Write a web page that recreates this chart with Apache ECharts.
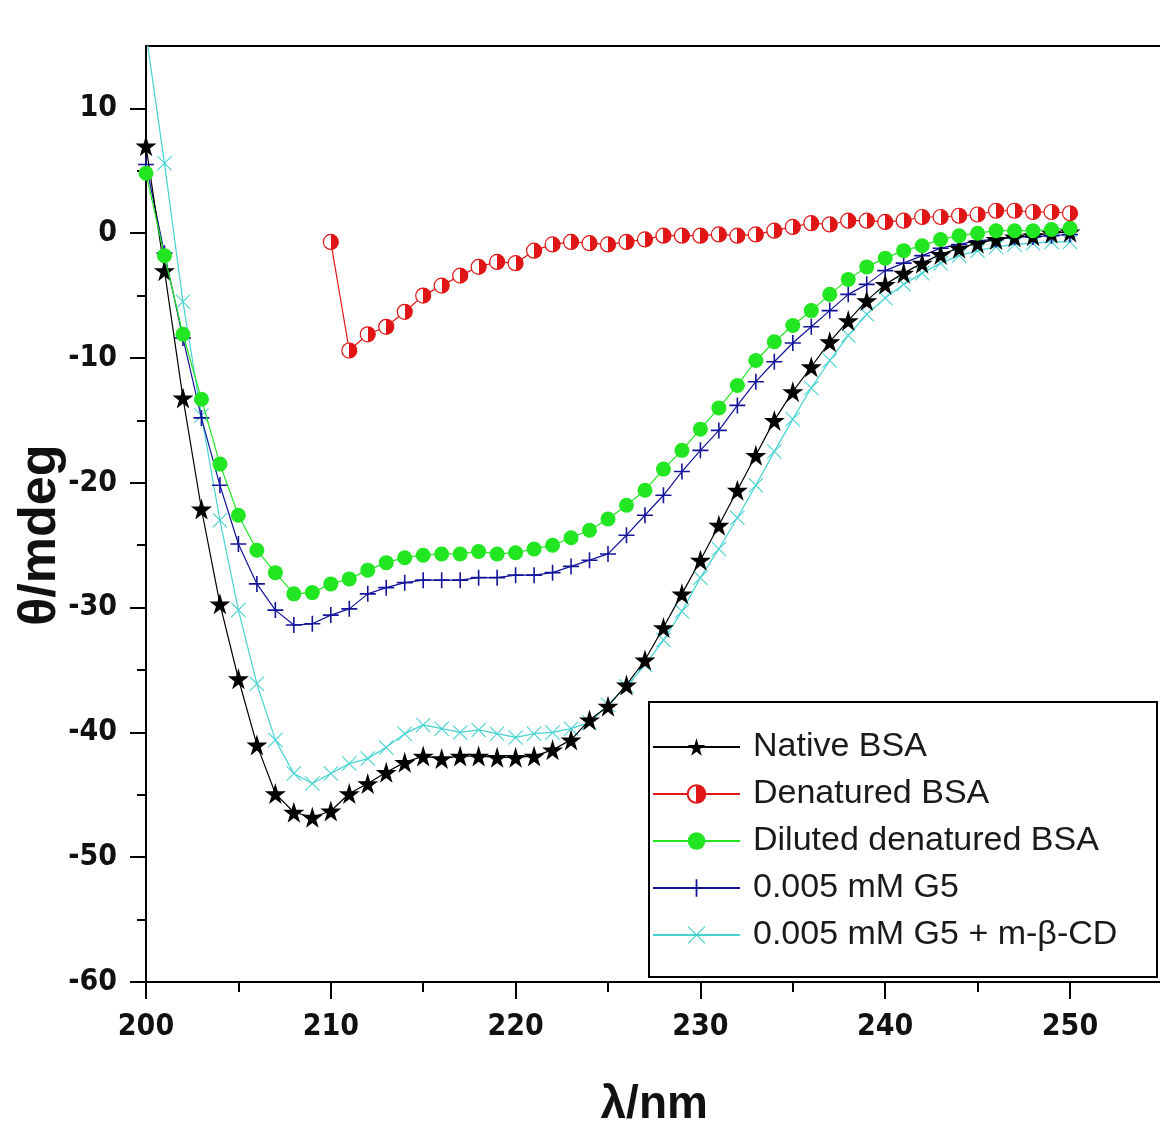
<!DOCTYPE html>
<html>
<head>
<meta charset="utf-8">
<script src="https://cdn.jsdelivr.net/npm/echarts@6/dist/echarts.min.js"></script>
<style>
  html, body { margin: 0; padding: 0; background: #ffffff; }
  #chart { width: 1160px; height: 1126px; }
</style>
</head>
<body>
<div id="chart"></div>
<script>
// CD spectra of BSA samples, ellipticity (mdeg) against wavelength (nm)
const wavelengths = [
  200, 201, 202, 203, 204, 205, 206, 207, 208, 209,
  210, 211, 212, 213, 214, 215, 216, 217, 218, 219,
  220, 221, 222, 223, 224, 225, 226, 227, 228, 229,
  230, 231, 232, 233, 234, 235, 236, 237, 238, 239,
  240, 241, 242, 243, 244, 245, 246, 247, 248, 249, 250
];

const nativeBSA = [
  7.0, -3.0, -13.2, -22.1, -29.7, -35.7, -41.0, -44.9, -46.4, -46.8,
  -46.3, -44.9, -44.1, -43.2, -42.4, -41.9, -42.1, -41.9, -41.9, -42.0,
  -42.0, -41.9, -41.4, -40.6, -39.0, -37.9, -36.2, -34.2, -31.6, -28.9,
  -26.2, -23.4, -20.6, -17.8, -15.0, -12.7, -10.7, -8.7, -7.0, -5.4,
  -4.1, -3.2, -2.4, -1.7, -1.2, -0.8, -0.5, -0.3, -0.2, 0.0, 0.1
];

const denaturedBSA = [
  null, null, null, null, null, null, null, null, null, null,
  -0.7, -9.4, -8.1, -7.5, -6.3, -5.0, -4.2, -3.4, -2.7, -2.3,
  -2.4, -1.4, -0.9, -0.7, -0.8, -0.9, -0.7, -0.5, -0.2, -0.2,
  -0.2, -0.1, -0.2, -0.1, 0.2, 0.5, 0.8, 0.7, 1.0, 1.0,
  0.9, 1.0, 1.3, 1.3, 1.4, 1.5, 1.8, 1.8, 1.7, 1.7, 1.6
];

const dilutedDenaturedBSA = [
  4.8, -1.8, -8.1, -13.3, -18.5, -22.6, -25.4, -27.2, -28.9, -28.8,
  -28.1, -27.7, -27.0, -26.4, -26.0, -25.8, -25.7, -25.7, -25.5, -25.7,
  -25.6, -25.3, -25.0, -24.4, -23.8, -22.9, -21.8, -20.6, -18.9, -17.4,
  -15.7, -14.0, -12.2, -10.2, -8.7, -7.4, -6.2, -4.9, -3.7, -2.7,
  -2.0, -1.4, -1.0, -0.5, -0.2, 0.0, 0.2, 0.2, 0.2, 0.3, 0.4
];

const g5 = [
  5.5, -1.6, -8.4, -14.8, -20.2, -24.9, -28.1, -30.2, -31.4, -31.3,
  -30.6, -30.1, -28.9, -28.4, -28.0, -27.8, -27.8, -27.8, -27.6, -27.6,
  -27.4, -27.4, -27.2, -26.7, -26.2, -25.7, -24.2, -22.6, -21.0, -19.1,
  -17.4, -15.8, -13.8, -11.9, -10.3, -8.8, -7.5, -6.2, -4.9, -4.1,
  -3.0, -2.4, -1.8, -1.2, -0.9, -0.6, -0.5, -0.3, -0.3, -0.2, -0.1
];

const g5CD = [
  16.0, 5.6, -5.5, -14.6, -23.0, -30.2, -36.1, -40.6, -43.3, -44.1,
  -43.3, -42.5, -42.1, -41.2, -40.1, -39.4, -39.7, -40.0, -39.8, -40.1,
  -40.4, -40.1, -40.0, -39.7, -39.2, -37.8, -36.3, -34.6, -32.6, -30.3,
  -27.6, -25.3, -22.8, -20.2, -17.5, -14.9, -12.4, -10.2, -8.2, -6.5,
  -5.2, -4.1, -3.2, -2.4, -1.8, -1.4, -1.1, -0.9, -0.8, -0.7, -0.7
];

const seriesNames = [
  'Native BSA',
  'Denatured BSA',
  'Diluted denatured BSA',
  '0.005 mM G5',
  '0.005 mM G5 + m-\u03b2-CD'
];

// axis ranges: the frame runs a little past the last labelled tick
const X_MIN = 200, X_TICK_MAX = 250, X_FRAME_MAX = 255;
const Y_MIN = -60, Y_TICK_MAX = 10, Y_FRAME_MAX = 15;

// layout
const PLOT_LEFT = 146, PLOT_TOP = 46;
const PX_PER_X = 18.48, PX_PER_Y = 12.48;

const tickFont = "'Liberation Sans Narrow', 'DejaVu Sans Condensed', 'Liberation Sans', sans-serif";
const textFont = "'Liberation Sans', Arial, sans-serif";

const STAR = 'path://M50,0 L61,35 L98,35 L68,57 L79,91 L50,70 L21,91 L32,57 L2,35 L39,35 Z';
const PLUS = 'path://M0,9 H20 V11 H0 Z M9,0 H11 V20 H9 Z';
const CROSS = 'path://M0,1 L1,0 L20,19 L19,20 Z M19,0 L20,1 L1,20 L0,19 Z';

const halfRed = new echarts.graphic.LinearGradient(0, 0, 1, 0, [
  { offset: 0, color: '#ffffff' },
  { offset: 0.5, color: '#ffffff' },
  { offset: 0.5, color: '#e01515' },
  { offset: 1, color: '#e01515' }
]);

function pairs(values) {
  return wavelengths
    .map((w, i) => [w, values[i]])
    .filter(p => p[1] !== null);
}

function lineSeries(name, values, color, symbol, size, z, itemStyle) {
  return {
    name: name,
    type: 'line',
    xAxisIndex: 0,
    yAxisIndex: 0,
    data: pairs(values),
    symbol: symbol,
    symbolSize: size,
    showAllSymbol: true,
    clip: true,
    z: z,
    lineStyle: { color: color, width: 1.2 },
    itemStyle: Object.assign({ color: color }, itemStyle || {}),
    emphasis: { disabled: true }
  };
}

const frameLine = { show: true, onZero: false, lineStyle: { color: '#000', width: 2 } };
const tickLabel = { show: true, fontSize: 30, fontWeight: 'bold', fontFamily: tickFont, color: '#111' };

const chart = echarts.init(document.getElementById('chart'), null, { renderer: 'canvas' });

chart.setOption({
  animation: false,
  backgroundColor: '#ffffff',
  grid: [
    {
      // frame grid, carries the data
      left: PLOT_LEFT, top: PLOT_TOP,
      width: (X_FRAME_MAX - X_MIN) * PX_PER_X,
      height: (Y_FRAME_MAX - Y_MIN) * PX_PER_Y,
      containLabel: false,
      outerBoundsMode: 'none'
    },
    {
      // tick grid, spans only the labelled range
      left: PLOT_LEFT,
      top: PLOT_TOP + (Y_FRAME_MAX - Y_TICK_MAX) * PX_PER_Y,
      width: (X_TICK_MAX - X_MIN) * PX_PER_X,
      height: (Y_TICK_MAX - Y_MIN) * PX_PER_Y,
      containLabel: false,
      outerBoundsMode: 'none'
    }
  ],
  xAxis: [
    {
      gridIndex: 0, type: 'value', min: X_MIN, max: X_FRAME_MAX, position: 'bottom',
      axisLine: frameLine,
      axisTick: { show: false }, axisLabel: { show: false }, splitLine: { show: false },
      name: '\u03bb/nm', nameLocation: 'middle', nameGap: 100, nameMoveOverlap: false,
      nameTextStyle: { fontSize: 46, fontWeight: 'bold', fontFamily: textFont, color: '#111' }
    },
    {
      gridIndex: 0, type: 'value', min: X_MIN, max: X_FRAME_MAX, position: 'top',
      axisLine: frameLine,
      axisTick: { show: false }, axisLabel: { show: false }, splitLine: { show: false }
    },
    {
      gridIndex: 1, type: 'value', min: X_MIN, max: X_TICK_MAX, interval: 10, position: 'bottom',
      axisLine: { show: false, onZero: false },
      axisTick: { show: true, length: 17, lineStyle: { color: '#000', width: 2 } },
      minorTick: { show: true, splitNumber: 2, length: 10, lineStyle: { color: '#000', width: 2 } },
      axisLabel: Object.assign({ margin: 30 }, tickLabel),
      splitLine: { show: false }
    }
  ],
  yAxis: [
    {
      gridIndex: 0, type: 'value', min: Y_MIN, max: Y_FRAME_MAX, position: 'left',
      axisLine: frameLine,
      axisTick: { show: false }, axisLabel: { show: false }, splitLine: { show: false }
    },
    {
      gridIndex: 1, type: 'value', min: Y_MIN, max: Y_TICK_MAX, interval: 10, position: 'left',
      axisLine: { show: false, onZero: false },
      axisTick: { show: true, length: 16, lineStyle: { color: '#000', width: 2 } },
      minorTick: { show: true, splitNumber: 2, length: 9, lineStyle: { color: '#000', width: 2 } },
      axisLabel: Object.assign({ margin: 29 }, tickLabel),
      splitLine: { show: false },
      name: '\u03b8/mdeg', nameLocation: 'middle', nameGap: 79, nameRotate: 90, nameMoveOverlap: false,
      nameTextStyle: { fontSize: 52, fontWeight: 'bold', fontFamily: textFont, color: '#111', padding: [0, 0, 0, 20] }
    }
  ],
  legend: {
    data: seriesNames,
    orient: 'vertical',
    left: 652, top: 730,
    itemWidth: 87, itemHeight: 22, itemGap: 13,
    padding: 0,
    selectedMode: false,
    z: 11,
    textStyle: { fontSize: 34, lineHeight: 34, fontFamily: textFont, color: '#1a1a1a', padding: [0, 0, 0, 8] }
  },
  graphic: [
    {
      type: 'rect', z: 10,
      shape: { x: 649, y: 702, width: 508, height: 275 },
      style: { fill: '#ffffff', stroke: '#000000', lineWidth: 2 }
    }
  ],
  series: [
    lineSeries(seriesNames[0], nativeBSA, '#000000', STAR, 21, 4),
    lineSeries(seriesNames[1], denaturedBSA, '#e01515', 'circle', 15, 6,
      { color: halfRed, borderColor: '#e01515', borderWidth: 1.2 }),
    lineSeries(seriesNames[2], dilutedDenaturedBSA, '#22e622', 'circle', 15, 5),
    lineSeries(seriesNames[3], g5, '#14149a', PLUS, 16, 3),
    lineSeries(seriesNames[4], g5CD, '#45d2d2', CROSS, 15, 2)
  ]
});
</script>
</body>
</html>
